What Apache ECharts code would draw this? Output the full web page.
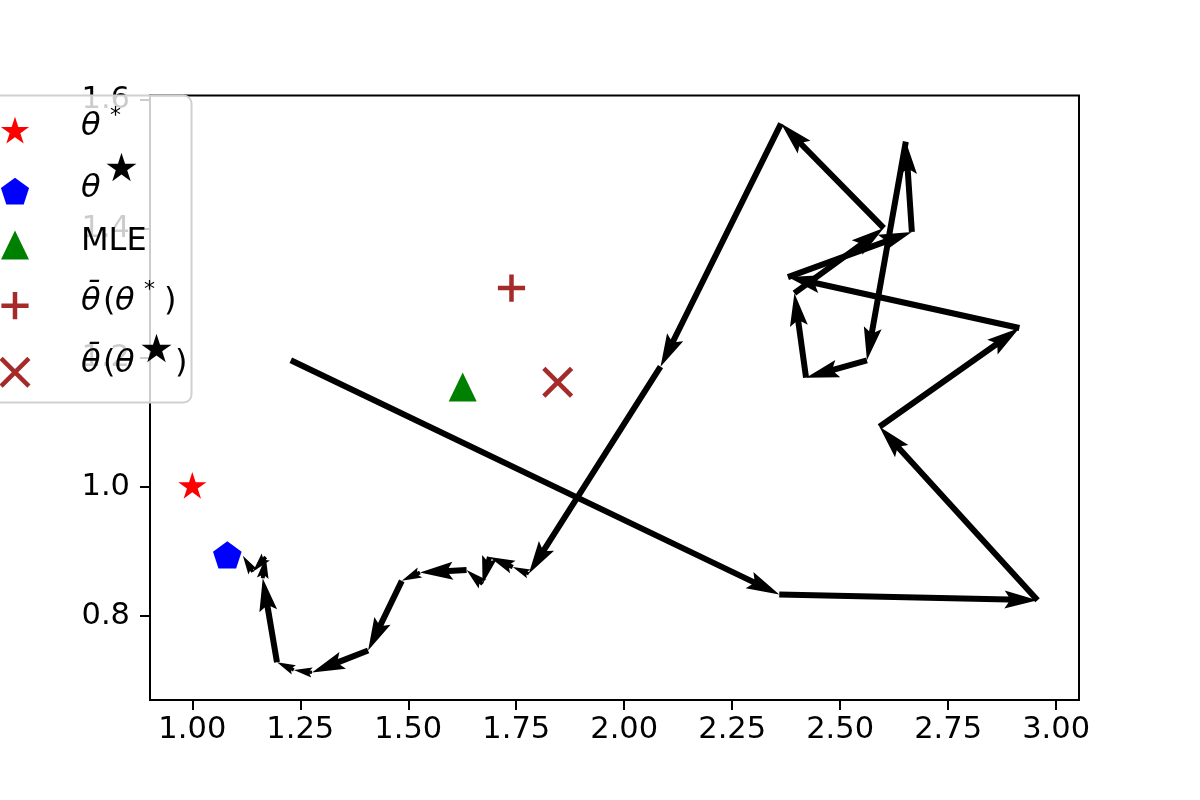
<!DOCTYPE html>
<html><head><meta charset="utf-8">
<script src="https://cdn.jsdelivr.net/npm/echarts@6/dist/echarts.min.js"></script>
<style>html,body{margin:0;padding:0;background:#fff}#c{width:1200px;height:800px}</style>
</head><body><div id="c"></div>
<script>
// ---- data ----
const pathX = [1.228, 2.359, 2.957, 2.591, 2.915, 2.379, 2.666, 2.652, 2.562, 2.421, 2.394, 2.601, 2.363, 2.084, 1.779, 1.742, 1.688, 1.672, 1.635, 1.527, 1.485, 1.407, 1.277, 1.235, 1.196, 1.163, 1.170, 1.140, 1.117];
const pathY = [1.196, 0.833, 0.824, 1.093, 1.246, 1.325, 1.395, 1.535, 1.196, 1.169, 1.300, 1.401, 1.563, 1.186, 0.865, 0.8755, 0.891, 0.849, 0.871, 0.867, 0.854, 0.746, 0.712, 0.716, 0.728, 0.858, 0.891, 0.868, 0.893];
const thetaStarPt = [1.0, 1.0];
const thetaBigStarPt = [1.081, 0.892];
const mlePt = [1.626, 1.1545];
const barThetaStarPt = [1.739, 1.308];
const barThetaBigStarPt = [1.846, 1.162];
const xTicks = [1.00, 1.25, 1.50, 1.75, 2.00, 2.25, 2.50, 2.75, 3.00];
const yTicks = [0.8, 1.0, 1.2, 1.4, 1.6];

// ---- shapes ----
function starPts(r){const p=[];for(let k=0;k<10;k++){const rr=k%2?r*0.381966:r;const a=k*Math.PI/5;p.push([rr*Math.sin(a),-rr*Math.cos(a)]);}return p;}
function pentPts(r){const p=[];for(let k=0;k<5;k++){const a=k*2*Math.PI/5;p.push([r*Math.sin(a),-r*Math.cos(a)]);}return p;}
function plusPts(h,t){return [[-h,-t],[-t,-t],[-t,-h],[t,-h],[t,-t],[h,-t],[h,t],[t,t],[t,h],[-t,h],[-t,t],[-h,t]];}
function xPts(h,d){const a=d/Math.SQRT2;return [[0,-2*a],[h-a,-h-a],[h+a,-h+a],[2*a,0],[h+a,h-a],[h-a,h+a],[0,2*a],[-h+a,h+a],[-h-a,h-a],[-2*a,0],[-h-a,-h+a],[-h+a,-h-a]];}
function triPts(w,h){return [[0,-h/2],[w/2,h/2],[-w/2,h/2]];}
function toPath(pts){return 'path://'+pts.map((p,i)=>(i?'L':'M')+p[0].toFixed(4)+','+p[1].toFixed(4)).join('')+'Z';}
function shift(pts,cx,cy){return pts.map(p=>[p[0]+cx,p[1]+cy]);}

const STAR = toPath(starPts(1));
const PENT = toPath(pentPts(1));
const PLUS = toPath(plusPts(1,0.165));
const XMK = toPath(xPts(1,0.165));

const SW=6, HW=18, HL=33, HA=29;
function renderArrow(params, api){
  const p0 = api.coord([api.value(0), api.value(1)]);
  const p1 = api.coord([api.value(2), api.value(3)]);
  const dx=p1[0]-p0[0], dy=p1[1]-p0[1];
  const L=Math.hypot(dx,dy); if(L<0.5) return null;
  const ux=dx/L, uy=dy/L, nx=-uy, ny=ux;
  let s=1, len=L; if(L<HL){s=L/HL; len=HL;}
  const loc=[[0,SW/2],[len-HA,SW/2],[len-HL,HW/2],[len,0],[len-HL,-HW/2],[len-HA,-SW/2],[0,-SW/2]];
  const pts=loc.map(([a,b])=>[p0[0]+s*(a*ux+b*nx), p0[1]+s*(a*uy+b*ny)]);
  return {type:'polygon', shape:{points:pts}, style:{fill:'#000', stroke:null}};
}
const arrowData=[];
for(let i=0;i<pathX.length-1;i++) arrowData.push([pathX[i],pathY[i],pathX[i+1],pathY[i+1]]);

const FONT='DejaVu Sans';
const FS=32;
function txt(x,y,s,opt){return {type:'text',z:60,x:x,y:y,style:{text:s,fill:'#000',font:(opt&&opt.italic?'italic ':'')+((opt&&opt.size)||FS)+'px "'+FONT+'"',textAlign:'left',textVerticalAlign:'middle'}};}
function poly(pts,color){return {type:'polygon',z:60,shape:{points:pts},style:{fill:color}};}

const legendEls = [
  {type:'rect',z:55,shape:{x:-20,y:95.5,width:211.5,height:307,r:8},style:{fill:'rgba(255,255,255,0.8)',stroke:'#d0d0d0',lineWidth:2}},
  poly(shift(starPts(14.8),15,131.5),'#ff0000'),
  poly(shift(pentPts(14.8),15,192.5),'#0000ff'),
  poly(shift(triPts(28,29),15,245),'#008000'),
  poly(shift(plusPts(13.6,2.25),15,305.7),'#a52a2a'),
  poly(shift(xPts(13.9,2.25),15,372.3),'#a52a2a'),
  // row1
  txt(81,127,'θ',{italic:true}), txt(110,116,'*',{size:22}),
  // row2
  txt(81,189,'θ',{italic:true}), txt(104,171,'★',{size:39}),
  // row3
  txt(81,242,'MLE'),
  // row4
  txt(81,302,'θ̄',{italic:true}), txt(103,302,'('), txt(115,302,'θ',{italic:true}), txt(144,290,'*',{size:22}), txt(164,302,')'),
  // row5
  txt(81,364,'θ̄',{italic:true}), txt(103,364,'('), txt(115,364,'θ',{italic:true}), txt(139,352,'★',{size:39}), txt(175,364,')')
];

const chart = echarts.init(document.getElementById('c'), null, {renderer:'canvas'});
chart.setOption({
  animation:false,
  backgroundColor:'#fff',
  grid:{left:150, top:95.5, right:121, bottom:100, show:true, borderColor:'#000', borderWidth:2, backgroundColor:'transparent'},
  xAxis:{type:'value', min:0.902, max:3.053,
    axisLine:{show:true, onZero:false, lineStyle:{color:'#000', width:2}},
    axisTick:{show:true, length:10, inside:false, customValues:xTicks, lineStyle:{color:'#000', width:2}},
    axisLabel:{show:true, customValues:xTicks, formatter:v=>Number(v).toFixed(2), color:'#000', fontSize:30.5, fontFamily:FONT, margin:15},
    splitLine:{show:false}},
  yAxis:{type:'value', min:0.6693, max:1.6065,
    axisLine:{show:true, onZero:false, lineStyle:{color:'#000', width:2}},
    axisTick:{show:true, length:10, inside:false, customValues:yTicks, lineStyle:{color:'#000', width:2}},
    axisLabel:{show:true, customValues:yTicks, formatter:v=>Number(v).toFixed(1), color:'#000', fontSize:30.5, fontFamily:FONT, margin:20},
    splitLine:{show:false}},
  graphic:{elements:legendEls},
  series:[
    {type:'custom', name:'path', renderItem:renderArrow, data:arrowData, encode:{x:[0,2], y:[1,3]}, z:3, silent:true, clip:false},
    {type:'scatter', name:'θ*', data:[thetaStarPt], symbol:STAR, symbolSize:[28.2,26.8], symbolOffset:[0,-1.4], itemStyle:{color:'#ff0000', opacity:1}, z:5, silent:true},
    {type:'scatter', name:'θ★', data:[thetaBigStarPt], symbol:PENT, symbolSize:[28.6,27.2], symbolOffset:[0,-1.4], itemStyle:{color:'#0000ff', opacity:1}, z:5, silent:true},
    {type:'scatter', name:'MLE', data:[mlePt], symbol:'triangle', symbolSize:[28,29], itemStyle:{color:'#008000', opacity:1}, z:5, silent:true},
    {type:'scatter', name:'θ̄(θ*)', data:[barThetaStarPt], symbol:PLUS, symbolSize:[27.2,27.2], itemStyle:{color:'#a52a2a', opacity:1}, z:5, silent:true},
    {type:'scatter', name:'θ̄(θ★)', data:[barThetaBigStarPt], symbol:XMK, symbolSize:[31,31], itemStyle:{color:'#a52a2a', opacity:1}, z:5, silent:true}
  ]
});
</script></body></html>
